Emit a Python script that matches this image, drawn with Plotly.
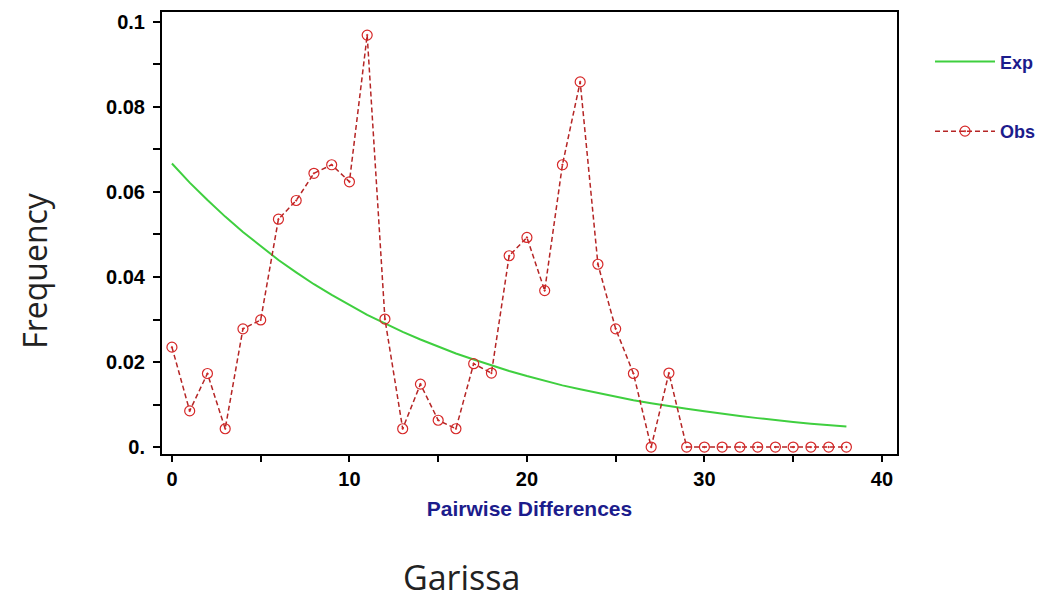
import plotly.graph_objects as go

# Pairwise differences (mismatch classes)
diffs = list(range(39))

# Observed mismatch frequencies
obs = [0.0235, 0.0085, 0.0173, 0.0043, 0.0278, 0.0299, 0.0536, 0.0580, 0.0644, 0.0664,
       0.0624, 0.0969, 0.0301, 0.0043, 0.0148, 0.0063, 0.0043, 0.0196, 0.0174, 0.0450,
       0.0493, 0.0368, 0.0664, 0.0859, 0.0430, 0.0278, 0.0173, 0.0000, 0.0174, 0.0000,
       0.0000, 0.0000, 0.0000, 0.0000, 0.0000, 0.0000, 0.0000, 0.0000, 0.0000]

# Expected frequencies
exp_ = [0.0667, 0.0622, 0.0581, 0.0542, 0.0506, 0.0472, 0.0440, 0.0411, 0.0383, 0.0358,
        0.0334, 0.0311, 0.0291, 0.0271, 0.0253, 0.0236, 0.0220, 0.0206, 0.0192, 0.0179,
        0.0167, 0.0156, 0.0145, 0.0136, 0.0127, 0.0118, 0.0110, 0.0103, 0.0096, 0.0090,
        0.0084, 0.0078, 0.0073, 0.0068, 0.0063, 0.0059, 0.0055, 0.0052, 0.0048]

x_tickvals = [0, 5, 10, 15, 20, 25, 30, 35, 40]
x_ticktext = ["0", "", "10", "", "20", "", "30", "", "40"]
y_tickvals = [0, 0.01, 0.02, 0.03, 0.04, 0.05, 0.06, 0.07, 0.08, 0.09, 0.1]
y_ticktext = ["0.", "", "0.02", "", "0.04", "", "0.06", "", "0.08", "", "0.1"]

BOLD = "Liberation Sans, Arial, sans-serif"
NAVY = "#1c1c8c"
LABEL_FONT = "Open Sans, DejaVu Sans, sans-serif"

fig = go.Figure()
fig.add_trace(go.Scatter(
    x=diffs, y=exp_, name="Exp", mode="lines", legend="legend",
    line=dict(color="#3fcf3f", width=2),
))
fig.add_trace(go.Scatter(
    x=diffs, y=obs, name="Obs", mode="lines+markers", legend="legend2",
    line=dict(color="#b52525", width=1.5, dash="5px,3px"),
    marker=dict(symbol="circle-open-dot", size=10, color="#d62828", line=dict(width=1.2)),
))

axis_common = dict(
    showline=True, mirror=True, linecolor="black", linewidth=2,
    ticks="outside", tickcolor="black", tickwidth=2,
    showgrid=False, zeroline=False,
    tickfont=dict(family=BOLD, size=20, color="black", weight="bold"),
)

fig.update_xaxes(range=[-0.56, 40.85], tickvals=x_tickvals, ticktext=x_ticktext,
                 ticklen=6, **axis_common,
                 title=dict(text="Pairwise Differences", standoff=12,
                            font=dict(family=BOLD, size=21, color=NAVY, weight="bold")))
fig.update_yaxes(range=[-0.00164, 0.10234], tickvals=y_tickvals, ticktext=y_ticktext,
                 ticklen=7, ticklabelstandoff=4, **axis_common)

fig.add_annotation(text="Frequency", xref="paper", yref="paper",
                   x=(35 - 162) / 735, y=(454 - 270) / 444, textangle=-90, showarrow=False,
                   xanchor="center", yanchor="middle",
                   font=dict(family=LABEL_FONT, size=32, color="#222222"))
fig.add_annotation(text="Garissa", xref="paper", yref="paper",
                   x=(461 - 162) / 735, y=-(578 - 454) / 444, showarrow=False,
                   xanchor="center", yanchor="middle",
                   font=dict(family=LABEL_FONT, size=34, color="#222222"))

legend_style = dict(xanchor="left", yanchor="middle", bgcolor="rgba(0,0,0,0)",
                    itemwidth=60,
                    font=dict(family=BOLD, size=18, color=NAVY, weight="bold"))

fig.update_layout(
    width=1052, height=599,
    margin=dict(l=162, r=155, t=10, b=145),
    plot_bgcolor="white", paper_bgcolor="white",
    legend=dict(x=(930 - 162) / 735, y=(454 - 60) / 444, **legend_style),
    legend2=dict(x=(930 - 162) / 735, y=(454 - 130) / 444, **legend_style),
    showlegend=True,
)

fig.write_html("out.html")
